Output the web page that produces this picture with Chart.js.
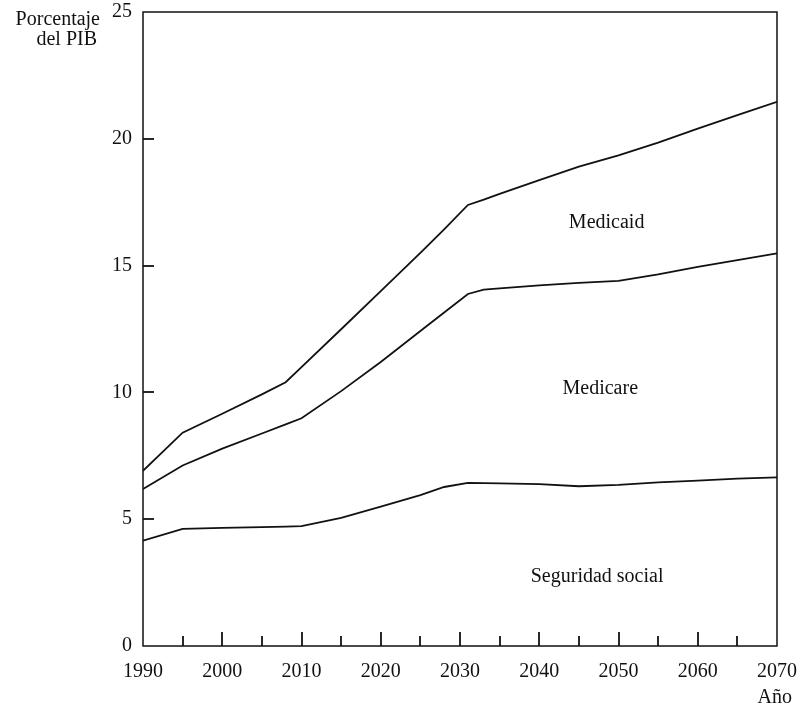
<!DOCTYPE html>
<html lang="es">

<head>
  <meta charset="UTF-8">
  <title>Porcentaje del PIB</title>
  <script src="https://cdn.jsdelivr.net/npm/chart.js"></script>
  <style>
    body {
      margin: 0;
      background: #fff;
    }
  </style>
</head>

<body>
  <canvas id="gastoChart" width="797" height="704"></canvas>
  <script>
    // años
    const years = [1990, 1995, 2000, 2005, 2008, 2010, 2015, 2020, 2025, 2028, 2031, 2033, 2035, 2040, 2045, 2050, 2055, 2060, 2065, 2070];

    // curvas acumuladas (porcentaje del PIB)
    const seguridadSocial = [4.15, 4.62, 4.66, 4.69, 4.71, 4.73, 5.05, 5.5, 5.95, 6.27, 6.43, 6.42, 6.41, 6.38, 6.3, 6.35, 6.45, 6.52, 6.6, 6.65];
    const medicare = [6.19, 7.12, 7.78, 8.38, 8.74, 8.98, 10.05, 11.2, 12.42, 13.15, 13.88, 14.05, 14.1, 14.22, 14.32, 14.4, 14.65, 14.95, 15.22, 15.48];
    const medicaid = [6.91, 8.41, 9.16, 9.92, 10.4, 11.0, 12.49, 13.99, 15.5, 16.43, 17.39, 17.6, 17.83, 18.37, 18.9, 19.35, 19.85, 20.4, 20.93, 21.46];

    const xMinorTicks = [1995, 2000, 2005, 2010, 2015, 2020, 2025, 2030, 2035, 2040, 2045, 2050, 2055, 2060, 2065];
    const yMinorTicks = [5, 10, 15, 20];

    const areaLabels = ['Medicaid', 'Medicare', 'Seguridad social'];
    const areaLabelAt = [[2048.5, 16.7], [2047.7, 10.15], [2047.3, 2.75]];

    const FONT = '"Liberation Serif", "DejaVu Serif", serif';
    const INK = '#111';

    function toPoints(values) {
      return years.map((yr, i) => ({ x: yr, y: values[i] }));
    }

    function lineSet(label, values) {
      return {
        label: label,
        data: toPoints(values),
        borderColor: INK,
        borderWidth: 1.8,
        pointRadius: 0,
        fill: false,
        tension: 0,
      };
    }

    // marco, marcas interiores y textos sueltos
    const framePlugin = {
      id: 'framePlugin',
      afterDraw(chart) {
        const ctx = chart.ctx;
        const area = chart.chartArea;
        const xs = chart.scales.x;
        const ys = chart.scales.y;

        ctx.save();
        ctx.strokeStyle = INK;
        ctx.lineWidth = 1.5;
        ctx.strokeRect(area.left, area.top, area.right - area.left, area.bottom - area.top);

        ctx.lineWidth = 1.8;
        xMinorTicks.forEach(yr => {
          const px = Math.round(xs.getPixelForValue(yr));
          const len = yr % 10 === 0 ? 14 : 10;
          ctx.beginPath();
          ctx.moveTo(px, area.bottom);
          ctx.lineTo(px, area.bottom - len);
          ctx.stroke();
        });
        yMinorTicks.forEach(v => {
          const py = Math.round(ys.getPixelForValue(v));
          ctx.beginPath();
          ctx.moveTo(area.left, py);
          ctx.lineTo(area.left + 11, py);
          ctx.stroke();
        });

        ctx.fillStyle = INK;
        ctx.font = '20px ' + FONT;
        ctx.textAlign = 'center';
        ctx.textBaseline = 'middle';
        areaLabels.forEach((txt, i) => {
          const p = areaLabelAt[i];
          ctx.fillText(txt, xs.getPixelForValue(p[0]), ys.getPixelForValue(p[1]));
        });

        ctx.textAlign = 'right';
        ctx.textBaseline = 'alphabetic';
        ctx.fillText('Porcentaje', 100, 25);
        ctx.fillText('del PIB', 97, 45);
        ctx.fillText('Año', 792, 703);
        ctx.restore();
      }
    };

    new Chart(document.getElementById('gastoChart').getContext('2d'), {
      type: 'line',
      data: {
        datasets: [
          lineSet('Seguridad social', seguridadSocial),
          lineSet('Medicare', medicare),
          lineSet('Medicaid', medicaid),
        ],
      },
      options: {
        responsive: false,
        maintainAspectRatio: false,
        animation: false,
        layout: {
          padding: { left: 0, right: 20, top: 12, bottom: 0 },
        },
        plugins: {
          legend: { display: false },
          tooltip: { enabled: false },
        },
        scales: {
          x: {
            type: 'linear',
            min: 1990,
            max: 2070,
            grid: { display: false, drawTicks: false },
            border: { display: false },
            ticks: {
              stepSize: 10,
              padding: 14,
              color: INK,
              font: { family: FONT, size: 20 },
              callback: v => String(v),
            },
            afterFit(scale) {
              scale.height = 58;
              scale.paddingLeft = 0;
              scale.paddingRight = 0;
            },
          },
          y: {
            min: 0,
            max: 25,
            grid: { display: false, drawTicks: false },
            border: { display: false },
            ticks: {
              stepSize: 5,
              padding: 11,
              color: INK,
              font: { family: FONT, size: 20 },
            },
            afterFit(scale) {
              scale.width = 143;
              scale.paddingTop = 0;
              scale.paddingBottom = 0;
            },
          },
        },
      },
      plugins: [framePlugin],
    });
  </script>
</body>

</html>
